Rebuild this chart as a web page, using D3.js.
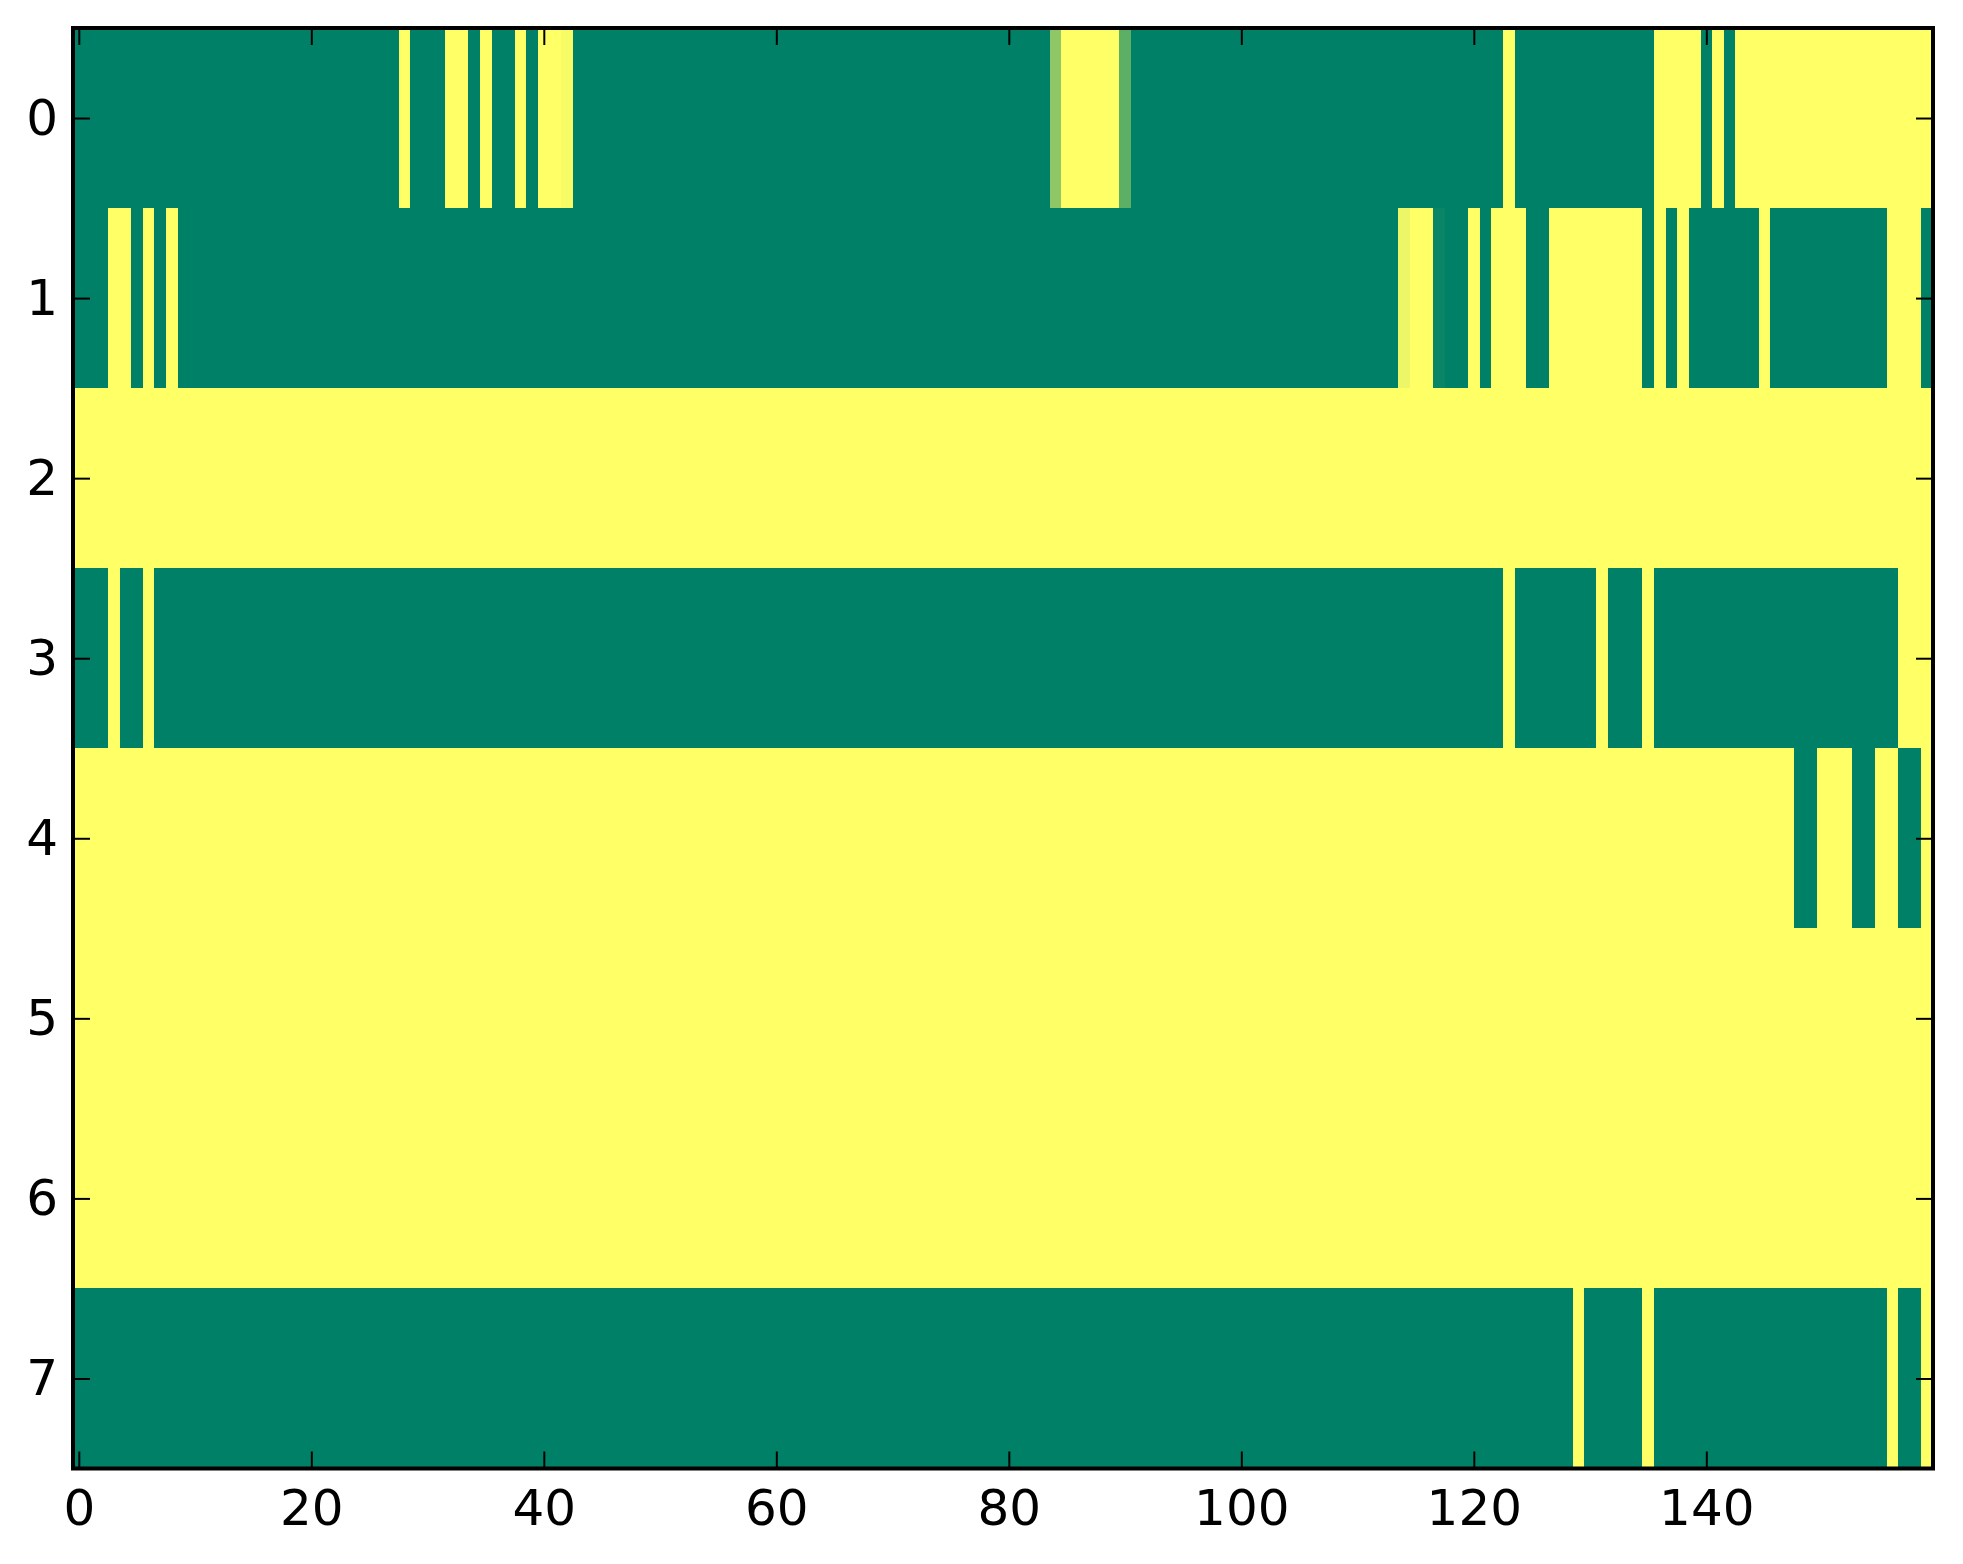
<!DOCTYPE html>
<html>
<head>
<meta charset="utf-8">
<script src="https://cdn.jsdelivr.net/npm/d3@7"></script>
<style>
  body { margin: 0; background: #fff; }
  text { font-family: "DejaVu Sans", sans-serif; }
</style>
</head>
<body>
<div id="chart"></div>
<script>
// DATA: one array per image row, 160 columns each (0 = green, 1 = yellow)
var row0 = [
  0,0,0,0,0,0,0,0,0,0,0,0,0,0,0,0,0,0,0,0,
  0,0,0,0,0,0,0,0,1,0,0,0,1,1,0,1,0,0,1,0,
  1,1,0.97,0,0,0,0,0,0,0,0,0,0,0,0,0,0,0,0,0,
  0,0,0,0,0,0,0,0,0,0,0,0,0,0,0,0,0,0,0,0,
  0,0,0,0,0.56,1,1,1,1,1,0.37,0,0,0,0,0,0,0,0,0,
  0,0,0,0,0,0,0,0,0,0,0,0,0,0,0,0,0,0,0,0,
  0,0,0,1,0,0,0,0,0,0,0,0,0,0,0,0,1,1,1,1,
  0,1,0,1,1,1,1,1,1,1,1,1,1,1,1,1,1,1,1,1
];
var row1 = [
  0,0,0,1,1,0,1,0,1,0,0,0,0,0,0,0,0,0,0,0,
  0,0,0,0,0,0,0,0,0,0,0,0,0,0,0,0,0,0,0,0,
  0,0,0,0,0,0,0,0,0,0,0,0,0,0,0,0,0,0,0,0,
  0,0,0,0,0,0,0,0,0,0,0,0,0,0,0,0,0,0,0,0,
  0,0,0,0,0,0,0,0,0,0,0,0,0,0,0,0,0,0,0,0,
  0,0,0,0,0,0,0,0,0,0,0,0,0,0,0.93,1,1,0.04,0,0,
  1,0,1,1,1,0,0,1,1,1,1,1,1,1,1,0,1,0,1,0,
  0,0,0,0,0,1,0,0,0,0,0,0,0,0,0,0,1,1,1,0
];
var row2 = [
  1,1,1,1,1,1,1,1,1,1,1,1,1,1,1,1,1,1,1,1,
  1,1,1,1,1,1,1,1,1,1,1,1,1,1,1,1,1,1,1,1,
  1,1,1,1,1,1,1,1,1,1,1,1,1,1,1,1,1,1,1,1,
  1,1,1,1,1,1,1,1,1,1,1,1,1,1,1,1,1,1,1,1,
  1,1,1,1,1,1,1,1,1,1,1,1,1,1,1,1,1,1,1,1,
  1,1,1,1,1,1,1,1,1,1,1,1,1,1,1,1,1,1,1,1,
  1,1,1,1,1,1,1,1,1,1,1,1,1,1,1,1,1,1,1,1,
  1,1,1,1,1,1,1,1,1,1,1,1,1,1,1,1,1,1,1,1
];
var row3 = [
  0,0,0,1,0,0,1,0,0,0,0,0,0,0,0,0,0,0,0,0,
  0,0,0,0,0,0,0,0,0,0,0,0,0,0,0,0,0,0,0,0,
  0,0,0,0,0,0,0,0,0,0,0,0,0,0,0,0,0,0,0,0,
  0,0,0,0,0,0,0,0,0,0,0,0,0,0,0,0,0,0,0,0,
  0,0,0,0,0,0,0,0,0,0,0,0,0,0,0,0,0,0,0,0,
  0,0,0,0,0,0,0,0,0,0,0,0,0,0,0,0,0,0,0,0,
  0,0,0,1,0,0,0,0,0,0,0,1,0,0,0,1,0,0,0,0,
  0,0,0,0,0,0,0,0,0,0,0,0,0,0,0,0,0,1,1,1
];
var row4 = [
  1,1,1,1,1,1,1,1,1,1,1,1,1,1,1,1,1,1,1,1,
  1,1,1,1,1,1,1,1,1,1,1,1,1,1,1,1,1,1,1,1,
  1,1,1,1,1,1,1,1,1,1,1,1,1,1,1,1,1,1,1,1,
  1,1,1,1,1,1,1,1,1,1,1,1,1,1,1,1,1,1,1,1,
  1,1,1,1,1,1,1,1,1,1,1,1,1,1,1,1,1,1,1,1,
  1,1,1,1,1,1,1,1,1,1,1,1,1,1,1,1,1,1,1,1,
  1,1,1,1,1,1,1,1,1,1,1,1,1,1,1,1,1,1,1,1,
  1,1,1,1,1,1,1,1,0,0,1,1,1,0,0,1,1,0,0,1
];
var row5 = row2.slice();
var row6 = row2.slice();
var row7 = [
  0,0,0,0,0,0,0,0,0,0,0,0,0,0,0,0,0,0,0,0,
  0,0,0,0,0,0,0,0,0,0,0,0,0,0,0,0,0,0,0,0,
  0,0,0,0,0,0,0,0,0,0,0,0,0,0,0,0,0,0,0,0,
  0,0,0,0,0,0,0,0,0,0,0,0,0,0,0,0,0,0,0,0,
  0,0,0,0,0,0,0,0,0,0,0,0,0,0,0,0,0,0,0,0,
  0,0,0,0,0,0,0,0,0,0,0,0,0,0,0,0,0,0,0,0,
  0,0,0,0,0,0,0,0,0,1,0,0,0,0,0,1,0,0,0,0,
  0,0,0,0,0,0,0,0,0,0,0,0,0,0,0,0,1,0,0,1
];
var rows = [row0, row1, row2, row3, row4, row5, row6, row7];

var xTicks = [0, 20, 40, 60, 80, 100, 120, 140];
var yTicks = [0, 1, 2, 3, 4, 5, 6, 7];

// LAYOUT
var WIDTH = 1963;
var HEIGHT = 1564;
var LEFT = 73;
var RIGHT = 1933;
var TOP = 28;
var BOTTOM = 1468.5;
var TICK = 17;

var xScale = d3.scaleLinear()
  .domain([-0.5, 159.5])
  .range([LEFT, RIGHT]);

var yScale = d3.scaleLinear()
  .domain([-0.5, 7.5])
  .range([TOP, BOTTOM]);

// matplotlib "summer"
var colorScale = d3.scaleLinear()
  .domain([0, 1])
  .range(["#008066", "#ffff66"]);

var svg = d3.select("#chart").append("svg")
  .attr("width", WIDTH)
  .attr("height", HEIGHT);

svg.append("rect")
  .attr("width", WIDTH)
  .attr("height", HEIGHT)
  .attr("fill", "#fff");

var cells = [];
rows.forEach(function(r, i) {
  r.forEach(function(v, j) {
    cells.push({row: i, col: j, value: v});
  });
});

svg.append("g")
  .attr("shape-rendering", "crispEdges")
  .selectAll("rect")
  .data(cells)
  .enter()
  .append("rect")
  .attr("x", d => xScale(d.col - 0.5))
  .attr("y", d => yScale(d.row - 0.5))
  .attr("width", d => xScale(d.col + 0.5) - xScale(d.col - 0.5))
  .attr("height", d => yScale(d.row + 0.5) - yScale(d.row - 0.5))
  .attr("fill", d => colorScale(d.value));

// axes, ticks pointing inward
function styleAxis(g) {
  g.select(".domain").remove();
  g.selectAll(".tick line").attr("stroke", "#000").attr("stroke-width", 2);
  g.selectAll(".tick text")
    .attr("fill", "#000")
    .style("font-family", "'DejaVu Sans', sans-serif")
    .style("font-size", "50px");
}

svg.append("g")
  .attr("transform", "translate(0," + BOTTOM + ")")
  .call(d3.axisBottom(xScale).tickValues(xTicks).tickSize(-TICK).tickPadding(21))
  .call(styleAxis);

svg.append("g")
  .attr("transform", "translate(0," + TOP + ")")
  .call(d3.axisTop(xScale).tickValues(xTicks).tickSize(-TICK).tickFormat(""))
  .call(styleAxis);

svg.append("g")
  .attr("transform", "translate(" + LEFT + ",0)")
  .call(d3.axisLeft(yScale).tickValues(yTicks).tickSize(-TICK).tickPadding(15))
  .call(styleAxis);

svg.append("g")
  .attr("transform", "translate(" + RIGHT + ",0)")
  .call(d3.axisRight(yScale).tickValues(yTicks).tickSize(-TICK).tickFormat(""))
  .call(styleAxis);

// frame
svg.append("rect")
  .attr("x", LEFT)
  .attr("y", TOP)
  .attr("width", RIGHT - LEFT)
  .attr("height", BOTTOM - TOP)
  .attr("fill", "none")
  .attr("stroke", "#000")
  .attr("stroke-width", 4);
</script>
</body>
</html>
